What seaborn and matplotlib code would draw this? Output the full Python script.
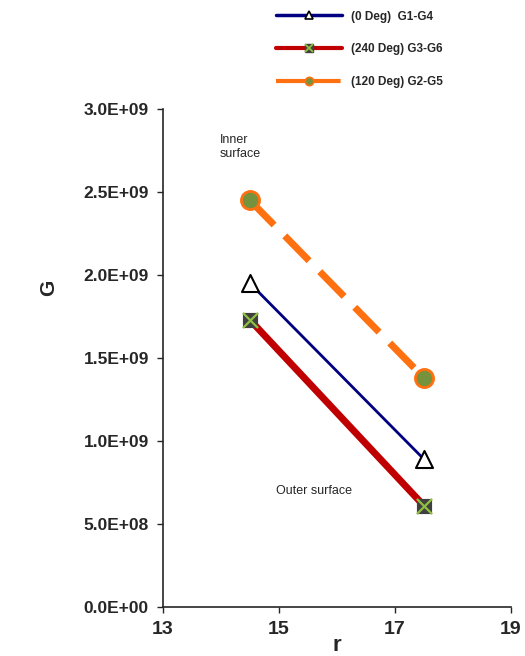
import numpy as np
import pandas as pd
import matplotlib
matplotlib.use("Agg")
import matplotlib.pyplot as plt
import seaborn as sns
from matplotlib.lines import Line2D
from matplotlib.legend_handler import HandlerTuple

# data
r = [14.5, 17.5]
g_0deg = [1.95e9, 0.89e9]
g_240deg = [1.73e9, 0.61e9]
g_120deg = [2.45e9, 1.38e9]
y_ticks = [0, 5e8, 1e9, 1.5e9, 2e9, 2.5e9, 3e9]
y_labels = ["0.0E+00", "5.0E+08", "1.0E+09", "1.5E+09", "2.0E+09", "2.5E+09", "3.0E+09"]
x_ticks = [13, 15, 17, 19]

sns.set_style("ticks")
plt.rcParams['font.family'] = ['Liberation Sans', 'DejaVu Sans']
plt.rcParams['font.weight'] = 'bold'

fig = plt.figure(figsize=(5.25, 6.56), dpi=100)
ax = fig.add_axes([0.31, 0.075, 0.663, 0.759])

df0 = pd.DataFrame({"r": r, "G": g_0deg})
df240 = pd.DataFrame({"r": r, "G": g_240deg})
df120 = pd.DataFrame({"r": r, "G": g_120deg})

# lines
sns.lineplot(data=df120, x="r", y="G", ax=ax, color="#ff7010", lw=5,
             dashes=False, zorder=2)
ax.lines[-1].set_dashes([5, 2.2])
sns.lineplot(data=df0, x="r", y="G", ax=ax, color="#000080", lw=2, zorder=2)
sns.lineplot(data=df240, x="r", y="G", ax=ax, color="#c00000", lw=5, zorder=2)

# markers
sns.scatterplot(data=df0, x="r", y="G", ax=ax, marker="^", s=150,
                facecolor="white", edgecolor="black", linewidth=1.5, zorder=3)
sns.scatterplot(data=df240, x="r", y="G", ax=ax, marker="s", s=110,
                color="#404040", edgecolor="#404040", zorder=3)
sns.scatterplot(data=df240, x="r", y="G", ax=ax, marker="x", s=120,
                color="#90c040", linewidth=1.6, zorder=4)
sns.scatterplot(data=df120, x="r", y="G", ax=ax, marker="o", s=170,
                facecolor="#76923c", edgecolor="#ff7010", linewidth=2, zorder=3)

ax.set_xlim(13, 19)
ax.set_ylim(0, 3e9)
ax.set_xticks(x_ticks)
ax.set_xticklabels([str(t) for t in x_ticks], fontsize=14, fontweight="bold")
ax.set_yticks(y_ticks)
ax.set_yticklabels(y_labels, fontsize=12.5, fontweight="bold")
ax.tick_params(direction="out", length=4, width=1, pad=6)
ax.set_xlabel("r", fontsize=16, fontweight="bold", labelpad=-2)
ax.set_ylabel("G", fontsize=15, fontweight="bold")
ax.yaxis.set_label_coords(-0.30, 0.64)
for s in ["left", "bottom"]:
    ax.spines[s].set_linewidth(1.2)
sns.despine(ax=ax)

ax.text(13.98, 2.77e9, "Inner\nsurface", fontsize=9, fontweight="normal",
        va="center", ha="left", linespacing=1.25)
ax.text(14.95, 0.70e9, "Outer surface", fontsize=9, fontweight="normal",
        va="center", ha="left")

# legend
h0 = Line2D([], [], color="#000080", lw=2.5, marker="^", ms=6,
            mfc="white", mec="black", mew=1.2)
h240a = Line2D([], [], color="#c00000", lw=3, marker="s", ms=6,
               mfc="#404040", mec="#404040")
h240b = Line2D([], [], ls="none", marker="x", ms=6, mec="#90c040", mew=1.3)
h120 = Line2D([], [], color="#ff7010", lw=3, ls=(0, (7, 1.5)), marker="o", ms=6,
              mfc="#76923c", mec="#ff7010", mew=1.2)
leg = fig.legend([h0, (h240a, h240b), h120],
                 ["(0 Deg)  G1-G4", "(240 Deg) G3-G6", "(120 Deg) G2-G5"],
                 handler_map={tuple: HandlerTuple(ndivide=1, pad=0)},
                 loc="upper left", bbox_to_anchor=(0.505, 1.0), frameon=False,
                 handlelength=5.6, handletextpad=0.8, labelspacing=1.75,
                 prop={"size": 8.5, "weight": "bold"})

fig.savefig("out.png", dpi=100)
